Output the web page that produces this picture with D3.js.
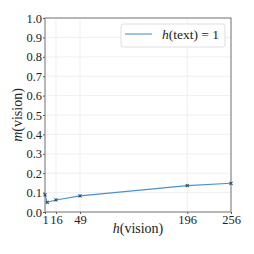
<!DOCTYPE html>
<html>
<head>
<meta charset="utf-8">
<script src="https://cdn.jsdelivr.net/npm/d3@7"></script>
<style>
  body { margin: 0; background: #fff; }
  text { font-family: "Liberation Serif", serif; }
</style>
</head>
<body>
<div class="canvas"></div>
<script>
// data
const hVision = [1, 4, 16, 49, 196, 256];
const mVision = [0.088, 0.05, 0.062, 0.083, 0.136, 0.148];
const xTicks = [1, 16, 49, 196, 256];
const yTicks = [0, 0.1, 0.2, 0.3, 0.4, 0.5, 0.6, 0.7, 0.8, 0.9, 1.0];
const legendLabel = 'h(text) = 1';

const svg = d3.select('.canvas')
  .append('svg')
  .attr('width', 254)
  .attr('height', 254);

const margin = {top: 18, right: 23, bottom: 42, left: 45};
const graphWidth = 254 - margin.left - margin.right;
const graphHeight = 254 - margin.top - margin.bottom;

const graph = svg.append('g')
  .attr('transform', `translate(${margin.left},${margin.top})`);

const x = d3.scaleLinear().domain([1, 256]).range([0, graphWidth]);
const y = d3.scaleLinear().domain([0, 1]).range([graphHeight, 0]);

// grid
graph.append('g')
  .selectAll('line')
  .data(yTicks)
  .enter().append('line')
    .attr('x1', 0).attr('x2', graphWidth)
    .attr('y1', d => y(d)).attr('y2', d => y(d))
    .attr('stroke', '#ececec').attr('stroke-width', 0.8);

graph.append('g')
  .selectAll('line')
  .data(xTicks)
  .enter().append('line')
    .attr('x1', d => x(d)).attr('x2', d => x(d))
    .attr('y1', 0).attr('y2', graphHeight)
    .attr('stroke', '#ececec').attr('stroke-width', 0.8);

// axes
const xAxisGroup = graph.append('g')
  .attr('transform', `translate(0, ${graphHeight})`)
  .call(d3.axisBottom(x).tickValues(xTicks).tickSize(2).tickPadding(1).tickFormat(d3.format('d')));

const yAxisGroup = graph.append('g')
  .call(d3.axisLeft(y).tickValues(yTicks).tickSize(2).tickPadding(1).tickFormat(d3.format('.1f')));

[xAxisGroup, yAxisGroup].forEach(g => {
  g.select('.domain').remove();
  g.selectAll('line').attr('stroke', '#555');
  g.selectAll('text')
    .attr('font-family', '"Liberation Serif", serif')
    .attr('font-size', '12.5px')
    .attr('fill', '#222');
});

// frame
graph.append('rect')
  .attr('width', graphWidth)
  .attr('height', graphHeight)
  .attr('fill', 'none')
  .attr('stroke', '#777')
  .attr('stroke-width', 1);

// series
const pts = hVision.map((h, i) => [h, mVision[i]]);
const line = d3.line().x(d => x(d[0])).y(d => y(d[1]));

graph.append('path')
  .datum(pts)
  .attr('d', line)
  .attr('fill', 'none')
  .attr('stroke', '#4a92cc')
  .attr('stroke-width', 1.1);

graph.selectAll('.mark')
  .data(pts)
  .enter().append('path')
    .attr('class', 'mark')
    .attr('transform', d => `translate(${x(d[0])},${y(d[1])})`)
    .attr('d', 'M-1.5,-1.5L1.5,1.5M-1.5,1.5L1.5,-1.5')
    .attr('stroke', '#2d4f73')
    .attr('stroke-width', 1.1);

// axis labels
const xLabel = svg.append('text')
  .attr('x', margin.left + graphWidth / 2)
  .attr('y', 233)
  .attr('text-anchor', 'middle')
  .attr('font-size', '14px')
  .attr('fill', '#222');
xLabel.append('tspan').attr('font-style', 'italic').text('h');
xLabel.append('tspan').text('(vision)');

const yLabel = svg.append('text')
  .attr('transform', `translate(22, ${margin.top + graphHeight / 2}) rotate(-90)`)
  .attr('text-anchor', 'middle')
  .attr('font-size', '14px')
  .attr('fill', '#222');
yLabel.append('tspan').attr('font-style', 'italic').text('m');
yLabel.append('tspan').text('(vision)');

// legend
const legend = svg.append('g').attr('transform', 'translate(121, 24)');
legend.append('rect')
  .attr('width', 104).attr('height', 23)
  .attr('rx', 2.5)
  .attr('fill', '#fff')
  .attr('stroke', '#d6d6d6')
  .attr('stroke-width', 0.8);
legend.append('line')
  .attr('x1', 4).attr('x2', 31)
  .attr('y1', 10).attr('y2', 10)
  .attr('stroke', '#4a92cc')
  .attr('stroke-width', 1.1);
const lt = legend.append('text')
  .attr('x', 41).attr('y', 14.5)
  .attr('font-size', '13.5px')
  .attr('fill', '#222');
lt.append('tspan').attr('font-style', 'italic').text('h');
lt.append('tspan').text(legendLabel.slice(1));
</script>
</body>
</html>
